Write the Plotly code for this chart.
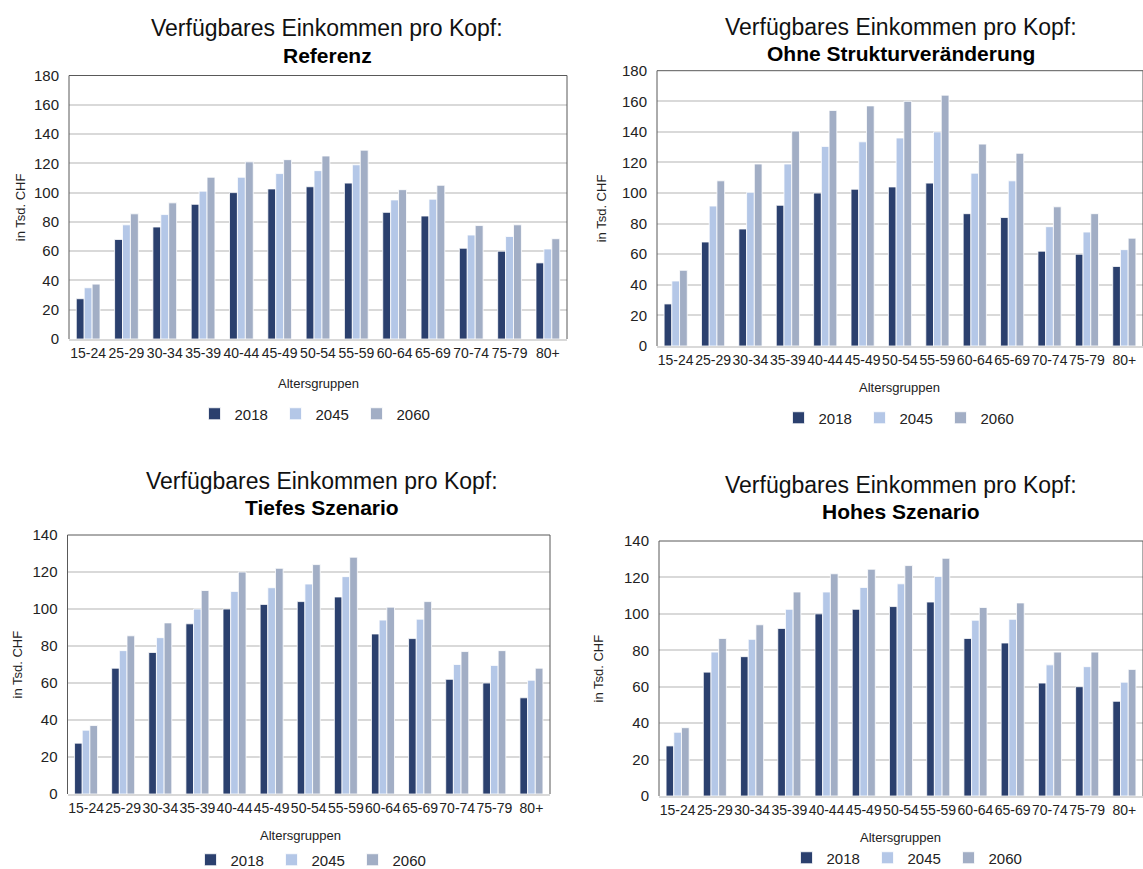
import plotly.graph_objects as go

categories = ["15-24", "25-29", "30-34", "35-39", "40-44", "45-49", "50-54",
              "55-59", "60-64", "65-69", "70-74", "75-79", "80+"]
years = ["2018", "2045", "2060"]

base_2018 = [27.5, 68, 76.5, 92, 100, 102.5, 104, 106.5, 86.5, 84, 62, 60, 52]

ref_2045 = [35, 78, 85, 101, 110.5, 113, 115, 119, 95, 95.5, 71, 70, 61.5]
ref_2060 = [37.5, 85.5, 93, 110.5, 121, 122.5, 125, 129, 102, 105, 77.5, 78, 68.5]

ohne_2045 = [42.5, 91.5, 100.5, 119, 130.5, 133.5, 136, 140, 113, 108, 78, 74.5, 63]
ohne_2060 = [49.5, 108, 119, 140.5, 154, 157, 160, 164, 132, 126, 91, 86.5, 70.5]

tief_2045 = [34.5, 77.5, 84.5, 100, 109.5, 111.5, 113.5, 117.5, 94, 94.5, 70, 69.5, 61.5]
tief_2060 = [37, 85.5, 92.5, 110, 120, 122, 124, 128, 101, 104, 77, 77.5, 68]

hoch_2045 = [35, 79, 86, 102.5, 112, 114.5, 116.5, 120.5, 96.5, 97, 72, 71, 62.5]
hoch_2060 = [37.5, 86.5, 94, 112, 122, 124.5, 126.5, 130.5, 103.5, 106, 79, 79, 69.5]

colors = ["#2B406E", "#B4C7E7", "#A2AEC5"]
FONT = "Liberation Sans"
W, H = 1143, 869

# layout in pixels (from top-left): plot box, title centre, axis-title rows, legend row
panels = [
    dict(sub="Referenz", data=[base_2018, ref_2045, ref_2060], ymax=180,
         box=(69, 75.5, 567, 339), tx=327, t1=28, t2=55, ax=318, xt=383, lx=316, ly=414, yt_x=20),
    dict(sub="Ohne Strukturveränderung", data=[base_2018, ohne_2045, ohne_2060], ymax=180,
         box=(657, 70.7, 1143, 346), tx=901, t1=27, t2=53, ax=899, xt=387, lx=900, ly=418, yt_x=601),
    dict(sub="Tiefes Szenario", data=[base_2018, tief_2045, tief_2060], ymax=140,
         box=(67.5, 535, 550, 794), tx=322, t1=481, t2=507, ax=300, xt=835, lx=312, ly=860, yt_x=17),
    dict(sub="Hohes Szenario", data=[base_2018, hoch_2045, hoch_2060], ymax=140,
         box=(659, 541, 1143, 796), tx=901, t1=485, t2=511, ax=900, xt=837, lx=908, ly=858, yt_x=598),
]

fig = go.Figure()
annotations = []
shapes = []
layout = {}

def px_x(v):
    return v / W

def px_y(v):
    return 1 - v / H

for i, p in enumerate(panels):
    n = "" if i == 0 else str(i + 1)
    xa, ya = "x" + n, "y" + n
    leg = "legend" + n
    for j, yr in enumerate(years):
        fig.add_trace(go.Bar(
            x=categories, y=p["data"][j], name=yr,
            marker=dict(color=colors[j], line=dict(color="white", width=0.8)),
            xaxis=xa, yaxis=ya, legend=leg, showlegend=True,
        ))
    x0, y0, x1, y1 = p["box"]
    xd = [px_x(x0), min(1.0, px_x(x1))]
    yd = [px_y(y1), px_y(y0)]
    layout["xaxis" + n] = dict(
        domain=xd, anchor=ya, showline=True, linecolor="#D9D9D9", linewidth=1.5,
        tickfont=dict(family=FONT, size=14, color="#222"), ticks="", tickangle=0,
        automargin=False, fixedrange=True,
    )
    layout["yaxis" + n] = dict(
        domain=yd, anchor=xa, range=[0, p["ymax"]], dtick=20,
        showgrid=True, gridcolor="#D9D9D9", gridwidth=1.5, zeroline=False,
        showline=False, ticks="", ticklabelstandoff=9, automargin=False,
        tickfont=dict(family=FONT, size=15, color="#222"), fixedrange=True,
    )
    for (a0, b0, a1, b1) in [(xd[0], yd[0], xd[0], yd[1]), (xd[0], yd[1], xd[1], yd[1]),
                             (xd[1], yd[0], xd[1], yd[1])]:
        shapes.append(dict(type="line", xref="paper", yref="paper", x0=a0, y0=b0,
                           x1=a1, y1=b1, line=dict(color="#595959", width=1)))
    annotations.append(dict(text="Verfügbares Einkommen pro Kopf:", x=px_x(p["tx"]), y=px_y(p["t1"]),
                            xref="paper", yref="paper", showarrow=False, xanchor="center",
                            yanchor="middle", font=dict(family=FONT, size=23, color="#111")))
    annotations.append(dict(text="<b>" + p["sub"] + "</b>", x=px_x(p["tx"]), y=px_y(p["t2"]),
                            xref="paper", yref="paper", showarrow=False, xanchor="center",
                            yanchor="middle", font=dict(family=FONT, size=21, color="#000")))
    annotations.append(dict(text="Altersgruppen", x=px_x(p["ax"]), y=px_y(p["xt"]),
                            xref="paper", yref="paper", showarrow=False, xanchor="center",
                            yanchor="middle", font=dict(family=FONT, size=13, color="#222")))
    annotations.append(dict(text="in Tsd. CHF", x=px_x(p["yt_x"]), y=(yd[0] + yd[1]) / 2,
                            xref="paper", yref="paper", showarrow=False, textangle=-90,
                            font=dict(family=FONT, size=13, color="#222"),
                            xanchor="center", yanchor="middle"))
    layout[leg] = dict(orientation="h", x=px_x(p["lx"]), y=px_y(p["ly"]), xanchor="center",
                       yanchor="middle", font=dict(family=FONT, size=15, color="#222"),
                       itemwidth=30, traceorder="normal",
                       bgcolor="rgba(0,0,0,0)", entrywidth=36)

fig.update_layout(
    width=W, height=H, margin=dict(l=0, r=0, t=0, b=0, autoexpand=False),
    paper_bgcolor="white", plot_bgcolor="white",
    barmode="group", bargap=0.38, bargroupgap=0,
    annotations=annotations, shapes=shapes, **layout,
)
fig.write_html(
    "out.html",
    config={"displayModeBar": False},
    post_script="document.body.style.margin='0';document.body.style.overflow='hidden';",
)
